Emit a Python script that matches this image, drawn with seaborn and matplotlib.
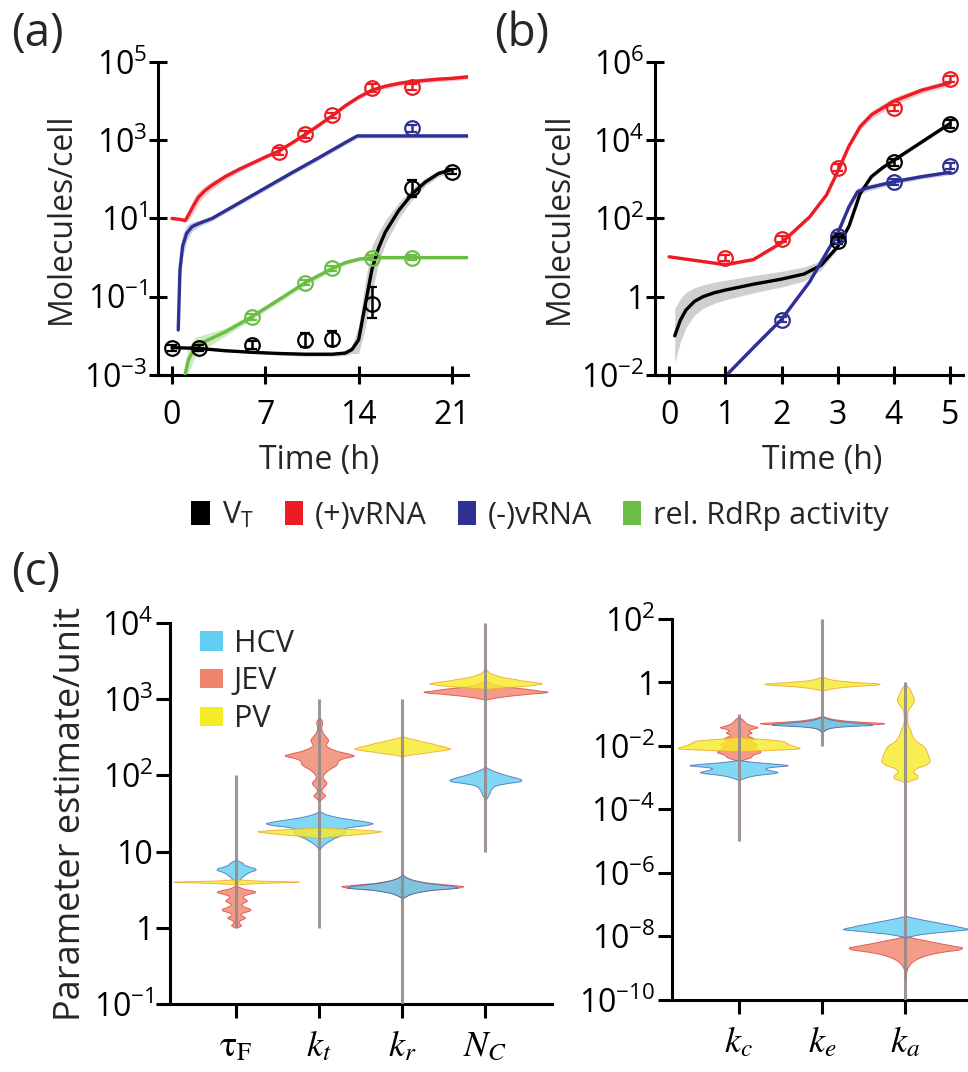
import numpy as np
import pandas as pd
import matplotlib
matplotlib.use("Agg")
import matplotlib.pyplot as plt
import seaborn as sns
from matplotlib.patches import Patch
from matplotlib.ticker import FixedLocator, FixedFormatter, NullLocator

# ====================== DATA ======================
# ---- panel (a): model curves (log10 values) + spread of trajectories (decades)
a_red_t   = [0, 0.5, 1.0, 1.3, 1.7, 2.0, 2.5, 3.0, 4, 5, 6, 7, 8, 9, 10, 11, 12, 13, 14, 15, 16, 17, 18, 19, 20, 21, 22.2]
a_red_log = [1.00, 0.98, 0.95, 1.13, 1.38, 1.55, 1.72, 1.85, 2.07, 2.25, 2.41, 2.57, 2.72, 2.93, 3.15, 3.38, 3.62, 3.88, 4.10, 4.28, 4.38, 4.45, 4.50, 4.53, 4.56, 4.58, 4.62]
a_red_sd  = [0.02, 0.03, 0.05, 0.15, 0.18, 0.15, 0.12, 0.10, 0.08, 0.07, 0.06, 0.05, 0.05, 0.05, 0.05, 0.05, 0.05, 0.05, 0.06, 0.06, 0.06, 0.06, 0.06, 0.06, 0.06, 0.06, 0.06]

a_blue_t   = [0.47, 0.6, 0.8, 1.1, 1.5, 2.0, 3.0, 5, 7, 9, 11, 13, 13.9, 22.2]
a_blue_log = [-1.85, -0.30, 0.30, 0.62, 0.79, 0.87, 1.00, 1.39, 1.78, 2.17, 2.55, 2.94, 3.11, 3.11]
a_blue_sd  = [0.30, 0.40, 0.30, 0.20, 0.12, 0.08, 0.06, 0.06, 0.06, 0.06, 0.06, 0.06, 0.05, 0.05]

a_green_t   = [0.97, 1.23, 1.73, 2.1, 4, 6, 8, 10, 12, 13, 14, 15, 22.2]
a_green_log = [-3.0, -2.62, -2.28, -2.2, -1.9, -1.51, -1.08, -0.64, -0.28, -0.13, -0.04, 0.0, 0.0]
a_green_sd  = [0.30, 0.35, 0.25, 0.20, 0.10, 0.08, 0.07, 0.07, 0.07, 0.06, 0.05, 0.04, 0.03]

a_black_t   = [0, 2, 4, 6, 8, 10, 12, 13, 13.5, 14, 14.5, 15, 15.5, 16, 17, 18, 19, 20, 21]
a_black_log = [-2.30, -2.32, -2.38, -2.42, -2.45, -2.47, -2.47, -2.44, -2.35, -2.10, -1.20, -0.30, 0.25, 0.65, 1.20, 1.62, 1.93, 2.15, 2.25]
a_black_sd  = [0.02, 0.02, 0.03, 0.03, 0.04, 0.05, 0.05, 0.06, 0.10, 0.35, 0.60, 0.60, 0.40, 0.30, 0.20, 0.15, 0.10, 0.08, 0.06]

# ---- panel (a): measurements (value, lower, upper)
a_red_pt_t  = [8, 10, 12, 15, 18]
a_red_pt    = [510, 1400, 4300, 22000, 23000]
a_red_pt_lo = [420, 1150, 3600, 17000, 19000]
a_red_pt_hi = [620, 1700, 5100, 28000, 28000]

a_blue_pt_t  = [18]
a_blue_pt    = [2000]
a_blue_pt_lo = [1650]
a_blue_pt_hi = [2400]

a_green_pt_t  = [6, 10, 12, 15, 18]
a_green_pt    = [0.031, 0.23, 0.53, 1.0, 1.0]
a_green_pt_lo = [0.026, 0.195, 0.45, 0.85, 0.85]
a_green_pt_hi = [0.037, 0.27, 0.62, 1.18, 1.18]

a_black_pt_t  = [0, 2, 6, 10, 12, 15, 18, 21]
a_black_pt    = [0.0049, 0.0049, 0.0058, 0.0078, 0.0085, 0.067, 61, 155]
a_black_pt_lo = [0.0041, 0.0042, 0.0047, 0.0053, 0.0056, 0.028, 35, 135]
a_black_pt_hi = [0.0058, 0.0058, 0.0072, 0.0115, 0.0135, 0.18, 95, 180]

# ---- panel (b): model curves
b_red_t   = [0, 0.5, 1.0, 1.5, 2.0, 2.5, 2.8, 3.0, 3.2, 3.4, 3.6, 4.0, 4.5, 5.0]
b_red_log = [1.02, 0.92, 0.82, 0.95, 1.38, 2.04, 2.60, 3.20, 3.85, 4.35, 4.65, 5.00, 5.28, 5.47]
b_red_sd  = [0.02, 0.03, 0.04, 0.04, 0.05, 0.05, 0.05, 0.05, 0.06, 0.08, 0.10, 0.10, 0.08, 0.08]

b_black_t   = [0.1, 0.2, 0.3, 0.45, 0.6, 0.8, 1.0, 1.5, 2.0, 2.4, 2.7, 3.0, 3.2, 3.4, 3.6, 3.8, 4.0, 4.5, 5.0]
b_black_log = [-1.0, -0.6, -0.34, -0.12, 0.0, 0.10, 0.17, 0.32, 0.45, 0.58, 0.80, 1.28, 1.80, 2.64, 3.07, 3.30, 3.49, 3.96, 4.43]
b_black_sd  = [0.70, 0.55, 0.45, 0.35, 0.30, 0.27, 0.25, 0.22, 0.20, 0.18, 0.12, 0.06, 0.05, 0.05, 0.05, 0.05, 0.05, 0.05, 0.05]

b_blue_t   = [1.05, 1.5, 2.0, 2.5, 3.0, 3.2, 3.35, 3.5, 4.0, 4.5, 5.0]
b_blue_log = [-1.96, -1.30, -0.58, 0.38, 1.62, 2.30, 2.68, 2.77, 2.94, 3.07, 3.18]
b_blue_sd  = [0.04, 0.04, 0.04, 0.04, 0.05, 0.08, 0.10, 0.08, 0.06, 0.06, 0.06]

# ---- panel (b): measurements
b_red_pt_t  = [1, 2, 3, 4, 5]
b_red_pt    = [10, 30, 2000, 66000, 370000]
b_red_pt_lo = [8.3, 25, 1650, 55000, 310000]
b_red_pt_hi = [12, 36, 2400, 80000, 440000]

b_black_pt_t  = [3, 4, 5]
b_black_pt    = [27, 2700, 26000]
b_black_pt_lo = [22, 2200, 21000]
b_black_pt_hi = [33, 3300, 32000]

b_blue_pt_t  = [2, 3, 4, 5]
b_blue_pt    = [0.26, 35, 870, 2200]
b_blue_pt_lo = [0.22, 29, 720, 1800]
b_blue_pt_hi = [0.31, 42, 1050, 2650]

# ---- panel (c): posterior density profiles: log10(parameter) grid and relative frequency
tauF_HCV_log = [0.892, 0.870, 0.848, 0.826, 0.805, 0.783, 0.761, 0.739, 0.718, 0.696, 0.674, 0.652, 0.631, 0.609, 0.587]
tauF_HCV_w   = [1, 12, 20, 22, 35, 55, 58, 40, 30, 25, 18, 13, 10, 7, 2]
tauF_JEV_log = [0.553, 0.531, 0.509, 0.487, 0.466, 0.444, 0.422, 0.400, 0.379, 0.357, 0.335, 0.313, 0.292,
                0.270, 0.248, 0.226, 0.205, 0.183, 0.161, 0.139, 0.118, 0.096, 0.074, 0.052, 0.031, 0.009]
tauF_JEV_w   = [2, 10, 22, 45, 50, 30, 18, 16, 22, 30, 20, 12, 15, 25, 38, 35, 18, 10, 14, 24, 18, 8, 6, 10, 14, 4]
tauF_PV_log  = [0.639, 0.631, 0.622, 0.613, 0.605, 0.596, 0.587, 0.579, 0.570]
tauF_PV_w    = [1, 20, 50, 110, 187, 110, 50, 20, 1]

kt_HCV_log = [1.531, 1.505, 1.479, 1.453, 1.426, 1.400, 1.374, 1.348, 1.322, 1.296,
              1.270, 1.244, 1.218, 1.192, 1.165, 1.139, 1.113, 1.087, 1.061, 1.035]
kt_HCV_w   = [1, 10, 25, 50, 85, 120, 150, 130, 75, 65, 68, 70, 60, 48, 36, 26, 18, 10, 6, 1]
kt_JEV_log = [2.748, 2.713, 2.679, 2.644, 2.609, 2.574, 2.539, 2.505, 2.470, 2.435, 2.400, 2.365, 2.331, 2.296, 2.261, 2.226,
              2.192, 2.157, 2.122, 2.087, 2.052, 2.018, 1.983, 1.948, 1.913, 1.879, 1.844, 1.809, 1.774, 1.739, 1.705, 1.670]
kt_JEV_w   = [3, 8, 8, 5, 6, 8, 12, 18, 25, 22, 15, 25, 40, 70, 103, 60,
              48, 50, 42, 28, 18, 12, 8, 12, 20, 18, 10, 5, 8, 18, 8, 2]
kt_PV_log  = [1.322, 1.309, 1.296, 1.283, 1.270, 1.257, 1.244, 1.231, 1.218, 1.205, 1.192, 1.179]
kt_PV_w    = [1, 46, 93, 140, 186, 170, 145, 115, 83, 52, 25, 1]

kr_HCV_log = [0.702, 0.685, 0.667, 0.650, 0.633, 0.615, 0.598, 0.580, 0.563, 0.546,
              0.528, 0.511, 0.493, 0.476, 0.459, 0.441, 0.424, 0.407, 0.389]
kr_HCV_w   = [1, 4, 8, 15, 25, 38, 55, 80, 110, 140, 155, 110, 70, 48, 32, 20, 12, 6, 1]
kr_JEV_log = [0.702, 0.685, 0.667, 0.650, 0.633, 0.615, 0.598, 0.580, 0.563, 0.546,
              0.528, 0.511, 0.493, 0.476, 0.459, 0.441, 0.424, 0.407, 0.389]
kr_JEV_w   = [1, 4, 8, 15, 25, 40, 60, 90, 125, 165, 150, 100, 65, 45, 30, 20, 12, 6, 1]
kr_PV_log  = [2.511, 2.494, 2.476, 2.459, 2.441, 2.424, 2.407, 2.389, 2.372, 2.354, 2.337, 2.320, 2.302, 2.285, 2.267, 2.250]
kr_PV_w    = [1, 15, 32, 48, 64, 80, 96, 112, 128, 144, 122, 100, 72, 43, 15, 1]

NC_HCV_log = [2.107, 2.081, 2.054, 2.028, 2.002, 1.976, 1.950, 1.924, 1.898, 1.872, 1.846, 1.820, 1.793, 1.767, 1.741, 1.715, 1.689]
NC_HCV_w   = [1, 12, 25, 40, 58, 80, 98, 100, 55, 28, 20, 16, 13, 11, 8, 5, 1]
NC_JEV_log = [3.241, 3.224, 3.207, 3.189, 3.172, 3.154, 3.137, 3.120, 3.102, 3.085, 3.067, 3.050, 3.033, 3.015, 2.998]
NC_JEV_w   = [1, 10, 20, 30, 50, 80, 110, 140, 175, 160, 110, 70, 45, 22, 1]
NC_PV_log  = [3.398, 3.381, 3.363, 3.346, 3.328, 3.311, 3.293, 3.276, 3.259, 3.241, 3.224, 3.207, 3.189, 3.172, 3.154, 3.137]
NC_PV_w    = [1, 4, 8, 12, 22, 32, 45, 65, 90, 112, 138, 162, 140, 100, 50, 1]

kc_HCV_log = [-2.441, -2.483, -2.525, -2.567, -2.609, -2.651, -2.693, -2.735, -2.777, -2.819,
              -2.861, -2.903, -2.945, -2.987, -3.029, -3.071]
kc_HCV_w   = [1, 25, 60, 110, 145, 95, 70, 75, 90, 110, 95, 55, 35, 20, 10, 1]
kc_JEV_log = [-1.097, -1.150, -1.202, -1.255, -1.307, -1.360, -1.412, -1.465, -1.517, -1.570, -1.622, -1.675, -1.727, -1.780,
              -1.832, -1.885, -1.937, -1.990, -2.042, -2.095, -2.147, -2.200, -2.252, -2.305, -2.357, -2.410, -2.462]
kc_JEV_w   = [2, 10, 14, 18, 25, 40, 60, 35, 25, 40, 30, 22, 40, 45, 32, 40, 55, 48, 40, 50, 62, 65, 45, 38, 35, 20, 2]
kc_PV_log  = [-1.706, -1.748, -1.790, -1.832, -1.874, -1.916, -1.958, -2.000, -2.042, -2.084, -2.126, -2.168]
kc_PV_w    = [1, 30, 80, 125, 132, 138, 145, 158, 170, 182, 90, 1]

ke_HCV_log = [-1.055, -1.087, -1.118, -1.150, -1.181, -1.213, -1.244, -1.276, -1.307, -1.339, -1.370, -1.402,
              -1.433, -1.465, -1.496, -1.528, -1.559]
ke_HCV_w   = [1, 4, 10, 18, 30, 48, 75, 110, 145, 150, 80, 40, 22, 12, 7, 4, 1]
ke_JEV_log = [-1.055, -1.087, -1.118, -1.150, -1.181, -1.213, -1.244, -1.276, -1.307, -1.339, -1.370, -1.402,
              -1.433, -1.465, -1.496, -1.528, -1.559]
ke_JEV_w   = [1, 8, 16, 28, 45, 70, 110, 165, 150, 90, 50, 30, 18, 12, 7, 4, 1]
ke_PV_log  = [0.184, 0.153, 0.121, 0.090, 0.058, 0.027, -0.005, -0.036, -0.068, -0.099, -0.131, -0.162, -0.194, -0.225, -0.257]
ke_PV_w    = [1, 8, 16, 26, 45, 75, 115, 160, 150, 100, 65, 40, 22, 10, 1]

ka_HCV_log = [-7.354, -7.407, -7.459, -7.512, -7.564, -7.617, -7.669, -7.722, -7.774, -7.827, -7.879, -7.932, -7.984, -8.037]
ka_HCV_w   = [1, 20, 45, 70, 95, 120, 145, 165, 188, 130, 80, 40, 15, 1]
ka_JEV_log = [-7.973, -8.047, -8.120, -8.194, -8.267, -8.341, -8.414, -8.488, -8.561, -8.635, -8.708, -8.782,
              -8.855, -8.929, -9.002, -9.076, -9.149, -9.223, -9.296, -9.370]
ka_JEV_w   = [1, 20, 55, 85, 120, 160, 150, 95, 65, 45, 30, 20, 13, 9, 5, 3, 2, 1, 1, 1]
ka_PV_log  = [-0.078, -0.183, -0.288, -0.393, -0.498, -0.603, -0.708, -0.813, -0.918, -1.023, -1.128, -1.233, -1.338, -1.443,
              -1.548, -1.653, -1.758, -1.863, -1.968, -2.073, -2.178, -2.283, -2.388, -2.493, -2.598, -2.703, -2.808,
              -2.913, -3.018, -3.123]
ka_PV_w    = [2, 12, 16, 20, 25, 24, 18, 10, 6, 5, 5, 5, 7, 12, 16, 18, 24, 32, 50, 58, 62, 66, 69, 72, 60, 28, 20,
              35, 38, 2]

viruses = ["HCV", "JEV", "PV"]
params_left = ["tauF", "kt", "kr", "NC"]
params_right = ["kc", "ke", "ka"]
param_labels = {"tauF": r"$\mathrm{\tau}_{\mathrm{F}}$", "kt": r"$k_t$", "kr": r"$k_r$",
                "NC": r"$N_C$", "kc": r"$k_c$", "ke": r"$k_e$", "ka": r"$k_a$"}

# prior ranges (grey bars)
prior_lo = {"tauF": 1, "kt": 1, "kr": 0.1, "NC": 10, "kc": 1e-5, "ke": 0.01, "ka": 1e-10}
prior_hi = {"tauF": 100, "kt": 1000, "kr": 1000, "NC": 1e4, "kc": 0.1, "ke": 100, "ka": 1}

profiles = {}
for _p in params_left + params_right:
    for _v in viruses:
        profiles[(_p, _v)] = (globals()[f"{_p}_{_v}_log"], globals()[f"{_p}_{_v}_w"])

# ====================== STYLE ======================
sns.set_theme(style="ticks")
plt.rcParams["font.family"] = ["Open Sans", "DejaVu Sans"]
plt.rcParams["mathtext.fontset"] = "stix"
FS = 23

C_RED, C_BLUE, C_GREEN, C_BLACK = "#ED1C24", "#2E3192", "#6ABD45", "#000000"
BAND = {C_RED: "#F39A9E", C_BLUE: "#9EA2D2", C_GREEN: "#A8D890", C_BLACK: "#A9A9A9"}
V_FILL = {"HCV": "#62CDF2", "JEV": "#F0836D", "PV": "#F6EC26"}
V_EDGE = {"HCV": "#3F6DB0", "JEV": "#E0433A", "PV": "#EFA12E"}
V_WIDTH = {("tauF", "HCV"): 0.47, ("tauF", "JEV"): 0.46, ("tauF", "PV"): 1.51,
           ("kt", "HCV"): 1.28, ("kt", "JEV"): 0.83, ("kt", "PV"): 1.49,
           ("kr", "HCV"): 1.33, ("kr", "JEV"): 1.47, ("kr", "PV"): 1.16,
           ("NC", "HCV"): 0.86, ("NC", "JEV"): 1.49, ("NC", "PV"): 1.35,
           ("kc", "HCV"): 1.18, ("kc", "JEV"): 0.52, ("kc", "PV"): 1.46,
           ("ke", "HCV"): 1.2, ("ke", "JEV"): 1.49, ("ke", "PV"): 1.38,
           ("ka", "HCV"): 1.5, ("ka", "JEV"): 1.36, ("ka", "PV"): 0.58}

fig = plt.figure(figsize=(9.68, 10.72), dpi=100)
ax_a = fig.add_axes([0.1632, 0.6502, 0.3202, 0.2920])
ax_b = fig.add_axes([0.6767, 0.6502, 0.3182, 0.2920])
ax_c1 = fig.add_axes([0.1756, 0.0634, 0.3946, 0.3554])
ax_c2 = fig.add_axes([0.6942, 0.0672, 0.3058, 0.3554])


def draw_curve(ax, t, lg, sd, color):
    t = np.asarray(t, float)
    lg = np.asarray(lg, float)
    sd = np.asarray(sd, float)
    ax.fill_between(t, 10 ** (lg - sd), 10 ** (lg + sd), color=BAND[color], alpha=0.55, lw=0, zorder=1)
    sns.lineplot(x=t, y=10 ** lg, ax=ax, color=color, lw=2.4, zorder=3, estimator=None, sort=False)


def draw_points(ax, t, y, lo, hi, color):
    y = np.asarray(y, float)
    yerr = [y - np.asarray(lo, float), np.asarray(hi, float) - y]
    ax.errorbar(t, y, yerr=yerr, fmt="o", ms=10.5, mfc="none", mec=color, mew=1.6,
                ecolor=color, elinewidth=1.8, capsize=3.5, capthick=1.8, zorder=4)


def pow_label(e):
    if e == 0:
        return "1"
    return r"$\mathregular{10^{%d}}$" % e


def style_common(ax):
    for s in ["top", "right"]:
        ax.spines[s].set_visible(False)
    for s in ["left", "bottom"]:
        ax.spines[s].set_linewidth(2.2)
        ax.spines[s].set_color("black")


def style_time_axis(ax, xlim, xticks, ylim_exp, yexps, xlab_x):
    ax.set_yscale("log")
    ax.set_xlim(*xlim)
    ax.set_ylim(10.0 ** ylim_exp[0], 10.0 ** ylim_exp[1])
    ax.xaxis.set_major_locator(FixedLocator(xticks))
    ax.xaxis.set_major_formatter(FixedFormatter([str(x) for x in xticks]))
    ax.yaxis.set_major_locator(FixedLocator([10.0 ** e for e in yexps]))
    ax.yaxis.set_major_formatter(FixedFormatter([pow_label(e) for e in yexps]))
    ax.yaxis.set_minor_locator(NullLocator())
    ax.xaxis.set_minor_locator(NullLocator())
    style_common(ax)
    ax.tick_params(axis="both", direction="inout", length=13, width=2.2, labelsize=FS, colors="black")
    ax.tick_params(axis="x", pad=11)
    ax.tick_params(axis="y", pad=1)
    ax.set_xlabel("Time (h)", fontsize=FS)
    ax.set_ylabel("Molecules/cell", fontsize=FS)
    ax.xaxis.set_label_coords(xlab_x, -0.222)
    ax.yaxis.set_label_coords(-0.258, 0.5)


# ---------------- panel (a) ----------------
draw_curve(ax_a, a_red_t, a_red_log, a_red_sd, C_RED)
draw_curve(ax_a, a_blue_t, a_blue_log, a_blue_sd, C_BLUE)
draw_curve(ax_a, a_green_t, a_green_log, a_green_sd, C_GREEN)
draw_curve(ax_a, a_black_t, a_black_log, a_black_sd, C_BLACK)
draw_points(ax_a, a_red_pt_t, a_red_pt, a_red_pt_lo, a_red_pt_hi, C_RED)
draw_points(ax_a, a_blue_pt_t, a_blue_pt, a_blue_pt_lo, a_blue_pt_hi, C_BLUE)
draw_points(ax_a, a_green_pt_t, a_green_pt, a_green_pt_lo, a_green_pt_hi, C_GREEN)
draw_points(ax_a, a_black_pt_t, a_black_pt, a_black_pt_lo, a_black_pt_hi, C_BLACK)
style_time_axis(ax_a, (-1.05, 22.2), [0, 7, 14, 21], (-3, 5), [-3, -1, 1, 3, 5], 0.519)

# ---------------- panel (b) ----------------
draw_curve(ax_b, b_red_t, b_red_log, b_red_sd, C_RED)
draw_curve(ax_b, b_black_t, b_black_log, b_black_sd, C_BLACK)
draw_curve(ax_b, b_blue_t, b_blue_log, b_blue_sd, C_BLUE)
draw_points(ax_b, b_red_pt_t, b_red_pt, b_red_pt_lo, b_red_pt_hi, C_RED)
draw_points(ax_b, b_blue_pt_t, b_blue_pt, b_blue_pt_lo, b_blue_pt_hi, C_BLUE)
draw_points(ax_b, b_black_pt_t, b_black_pt, b_black_pt_lo, b_black_pt_hi, C_BLACK)
style_time_axis(ax_b, (-0.25, 5.23), [0, 1, 2, 3, 4, 5], (-2, 6), [-2, 0, 2, 4, 6], 0.542)

# legend for (a)/(b)
leg_handles = [Patch(facecolor=c, edgecolor="none") for c in [C_BLACK, C_RED, C_BLUE, C_GREEN]]
leg_labels = [r"V$_\mathregular{T}$", "(+)vRNA", "(-)vRNA", "rel. RdRp activity"]
fig.legend(leg_handles, leg_labels, loc="center", bbox_to_anchor=(0.558, 0.519), ncol=4,
           frameon=False, fontsize=22, handlelength=0.6, handleheight=0.82,
           handletextpad=0.4, columnspacing=1.0, borderaxespad=0)


# ---------------- panel (c) ----------------
def draw_violins(ax, params, exps):
    for p in params:
        for v in ["JEV", "HCV", "PV"]:
            lg, w = profiles[(p, v)]
            lg = np.asarray(lg, float)
            vals = np.repeat(10.0 ** lg, np.asarray(w, int))
            step = np.median(np.abs(np.diff(lg)))
            bw = 0.55 * step / np.std(np.log10(vals), ddof=1)
            df = pd.DataFrame({"param": p, "value": vals})
            sns.violinplot(data=df, x="param", y="value", order=params, color=V_FILL[v],
                           width=V_WIDTH[(p, v)], density_norm="width", inner=None, cut=0,
                           bw_method=bw, bw_adjust=1, gridsize=300, log_scale=True, linewidth=0.7,
                           linecolor=V_EDGE[v], saturation=1, alpha=0.8, ax=ax)
    pos = np.arange(len(params))
    ax.vlines(pos, [prior_lo[p] for p in params], [prior_hi[p] for p in params],
              color="#958A8A", lw=2.2, alpha=0.9, zorder=6)
    ax.set_yscale("log")
    ax.set_ylim(10.0 ** exps[0], 10.0 ** exps[-1])
    ax.yaxis.set_major_locator(FixedLocator([10.0 ** e for e in exps]))
    ax.yaxis.set_major_formatter(FixedFormatter(
        ["10" if e == 1 else pow_label(e) for e in exps]))
    ax.yaxis.set_minor_locator(NullLocator())
    ax.xaxis.set_major_locator(FixedLocator(pos))
    ax.xaxis.set_major_formatter(FixedFormatter([param_labels[p] for p in params]))
    style_common(ax)
    ax.tick_params(axis="both", direction="out", length=10, width=2.2, labelsize=FS, colors="black")
    ax.tick_params(axis="y", pad=2)
    ax.tick_params(axis="x", pad=8, labelsize=26)
    ax.set_xlabel("")
    ax.set_ylabel("")


draw_violins(ax_c1, params_left, [-1, 0, 1, 2, 3, 4])
ax_c1.set_xlim(-0.795, 3.8)
ax_c1.set_ylabel("Parameter estimate/unit", fontsize=26)
ax_c1.yaxis.set_label_coords(-0.212, 0.5)
draw_violins(ax_c2, params_right, [-10, -8, -6, -4, -2, 0, 2])
ax_c2.set_xlim(-0.8, 2.75)

c_handles = [Patch(facecolor=V_FILL[v], edgecolor="none") for v in viruses]
ax_c1.legend(c_handles, viruses, loc="upper left", bbox_to_anchor=(0.0785, 0.985), frameon=False,
             fontsize=22, handlelength=0.75, handleheight=0.6, handletextpad=0.35,
             labelspacing=0.25, borderaxespad=0, borderpad=0)

# panel letters
fig.text(0.012, 0.990, "(a)", fontsize=33, va="top", ha="left")
fig.text(0.510, 0.990, "(b)", fontsize=33, va="top", ha="left")
fig.text(0.012, 0.487, "(c)", fontsize=33, va="top", ha="left")

fig.savefig("out.png", dpi=100)
